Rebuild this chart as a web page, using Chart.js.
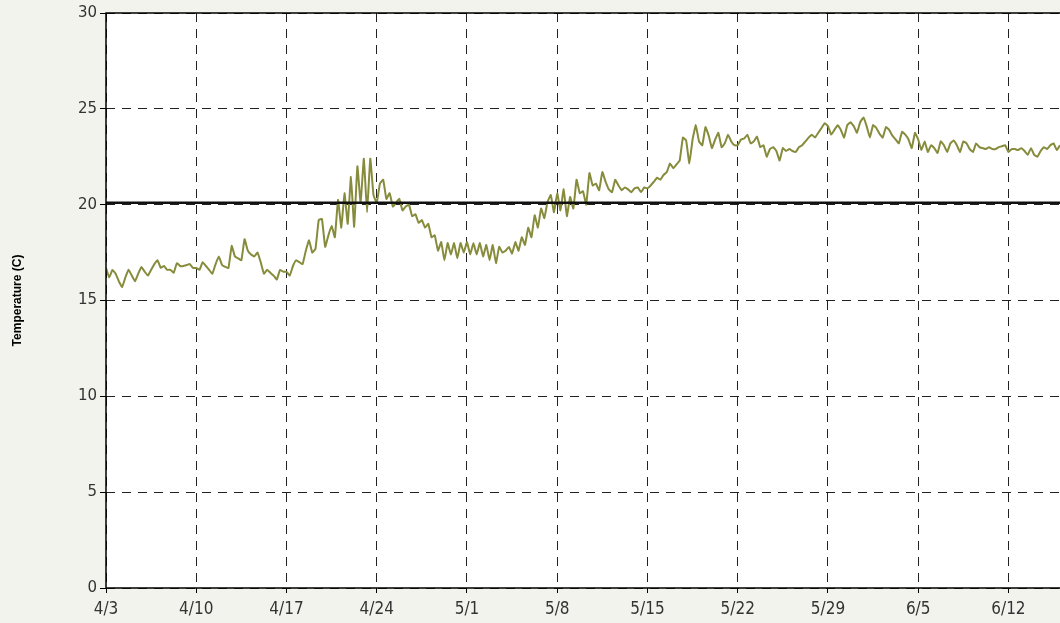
<!DOCTYPE html>
<html>
<head>
<meta charset="utf-8">
<script src="https://cdn.jsdelivr.net/npm/chart.js@4.4.1/dist/chart.umd.min.js"></script>
<style>
  html, body { margin: 0; padding: 0; background: #f3f3ee; }
  #wrap { width: 1060px; height: 623px; position: relative; }
</style>
</head>
<body>
<div id="wrap"><canvas id="c" width="1060" height="623"></canvas></div>
<script>
// Tick labels (one every 7 days, starting 4/3)
const dayLabels = ['4/3','4/10','4/17','4/24','5/1','5/8','5/15','5/22','5/29','6/5','6/12'];
const daysPerTick = 7;
const stepDays = 0.25;      // readings every 6 hours
const xMaxDays = 74;
const threshold = 20.1;     // reference line (C)
const yTicks = [0, 5, 10, 15, 20, 25, 30];

// Temperature readings (C), 4 per day from 4/3
const temps = [
  // 4/3 - 4/9
  16.7,16.2,16.6,16.4, 16.0,15.7,16.2,16.6, 16.3,16.0,16.4,16.75, 16.5,16.3,16.6,16.9, 17.1,16.7,16.8,16.6, 16.6,16.45,16.95,16.8, 16.8,16.85,16.9,16.7,
  // 4/10 - 4/16
  16.7,16.6,17.0,16.8, 16.6,16.4,16.9,17.3, 16.85,16.75,16.7,17.85, 17.3,17.2,17.1,18.2, 17.6,17.4,17.3,17.5, 17.0,16.4,16.6,16.45, 16.3,16.1,16.6,16.5,
  // 4/17 - 4/23
  16.5,16.3,16.8,17.1, 17.0,16.9,17.6,18.15, 17.5,17.7,19.2,19.25, 17.8,18.4,18.9,18.3, 20.25,18.8,20.6,19.0, 21.45,18.85,22.0,20.1, 22.4,19.6,22.4,20.5,
  // 4/24 - 4/30
  20.1,21.1,21.3,20.3, 20.6,19.9,20.1,20.3, 19.7,19.9,20.0,19.4, 19.5,19.05,19.2,18.8, 19.0,18.3,18.4,17.6, 18.05,17.1,18.0,17.4, 18.0,17.2,18.0,17.5,
  // 5/1 - 5/7
  18.05,17.4,18.0,17.4, 18.0,17.3,17.9,17.1, 17.9,16.95,17.8,17.5, 17.6,17.8,17.45,18.05, 17.6,18.3,17.9,18.8, 18.3,19.45,18.8,19.8, 19.3,20.15,20.5,19.6,
  // 5/8 - 5/14
  20.6,19.7,20.8,19.4, 20.4,19.8,21.3,20.6, 20.7,20.0,21.65,21.0, 21.1,20.75,21.7,21.2, 20.8,20.65,21.3,21.0, 20.75,20.9,20.8,20.65, 20.85,20.9,20.65,20.9,
  // 5/15 - 5/21
  20.85,21.0,21.2,21.4, 21.3,21.55,21.7,22.15, 21.9,22.1,22.3,23.5, 23.35,22.15,23.4,24.15, 23.3,23.1,24.05,23.6, 22.95,23.4,23.75,23.0, 23.2,23.65,23.3,23.1,
  // 5/22 - 5/28
  23.1,23.4,23.45,23.65, 23.2,23.3,23.55,23.0, 23.1,22.5,22.9,23.0, 22.8,22.3,22.95,22.8, 22.9,22.8,22.75,23.0, 23.1,23.3,23.5,23.65, 23.5,23.75,24.0,24.25,
  // 5/29 - 6/4
  24.1,23.65,23.9,24.15, 23.9,23.5,24.15,24.3, 24.1,23.75,24.3,24.55, 24.1,23.5,24.15,24.0, 23.7,23.5,24.05,23.9, 23.6,23.4,23.2,23.8, 23.65,23.4,22.95,23.75,
  // 6/5 - 6/11
  23.4,22.85,23.3,22.75, 23.1,22.95,22.7,23.3, 23.1,22.75,23.2,23.35, 23.1,22.75,23.3,23.2, 22.9,22.75,23.2,23.0, 22.95,22.9,23.0,22.9, 22.9,23.0,23.05,23.1,
  // 6/12 - 6/16
  22.75,22.9,22.9,22.85, 22.95,22.8,22.6,22.95, 22.6,22.5,22.8,23.0, 22.9,23.1,23.2,22.85, 23.1
];

const tempPoints = temps.map((v, i) => ({ x: i * stepDays, y: v }));
const thresholdPoints = [{ x: 0, y: threshold }, { x: xMaxDays, y: threshold }];

// solid plot frame (top, left, bottom) drawn over the dashed grid
const frame = {
  id: 'frame',
  afterDatasetsDraw(chart) {
    const { ctx, chartArea: a } = chart;
    ctx.save();
    ctx.strokeStyle = '#000';
    ctx.lineWidth = 1.5;
    ctx.setLineDash([]);
    ctx.beginPath();
    ctx.moveTo(a.right, a.top);
    ctx.lineTo(a.left, a.top);
    ctx.lineTo(a.left, a.bottom);
    ctx.lineTo(a.right, a.bottom);
    ctx.stroke();
    ctx.restore();
  }
};
const plotBg = {
  id: 'plotBg',
  beforeDraw(chart) {
    const { ctx, chartArea } = chart;
    ctx.save();
    ctx.fillStyle = '#ffffff';
    ctx.fillRect(chartArea.left, chartArea.top, chartArea.right - chartArea.left, chartArea.bottom - chartArea.top);
    ctx.restore();
  }
};

new Chart(document.getElementById('c'), {
  type: 'line',
  data: {
    datasets: [
      {
        data: tempPoints,
        borderColor: '#878c3c',
        borderWidth: 2,
        pointRadius: 0,
        tension: 0.1,
        order: 2
      },
      {
        data: thresholdPoints,
        borderColor: '#111',
        borderWidth: 2.5,
        pointRadius: 0,
        order: 1
      }
    ]
  },
  options: {
    responsive: false,
    animation: false,
    layout: { padding: { top: 13, right: 0, left: 0, bottom: 0 } },
    plugins: { legend: { display: false }, tooltip: { enabled: false } },
    scales: {
      x: {
        type: 'linear',
        min: 0,
        max: xMaxDays,
        afterBuildTicks: s => { s.ticks = s.ticks.filter(t => t.value % daysPerTick === 0); },
        afterFit: s => { s.height = 35; },
        ticks: {
          stepSize: daysPerTick,
          autoSkip: false,
          maxRotation: 0,
          padding: 6,
          color: '#333',
          font: { family: '"Liberation Sans Narrow", "DejaVu Sans Condensed", "Liberation Sans"', size: 17 },
          callback: v => dayLabels[v / daysPerTick] ?? ''
        },
        grid: {
          color: '#222',
          lineWidth: 1,
          tickBorderDash: [],
          tickColor: '#000',
          tickLength: 5
        },
        border: { display: false, dash: [9, 7] }
      },
      y: {
        min: 0,
        max: 30,
        afterBuildTicks: s => { s.ticks = yTicks.map(v => ({ value: v })); },
        afterFit: s => { s.width = 106; },
        ticks: {
          stepSize: 5,
          padding: 3,
          color: '#333',
          font: { family: '"DejaVu Sans"', size: 15 }
        },
        grid: {
          color: '#222',
          lineWidth: 1,
          tickBorderDash: [],
          tickColor: '#000',
          tickLength: 6
        },
        border: { display: false, dash: [9, 7] },
        title: {
          display: true,
          text: 'Temperature (C)',
          color: '#000',
          font: { family: '"Liberation Sans", Arial', size: 12, weight: 'bold' },
          padding: { top: 10, bottom: 0 }
        }
      }
    }
  },
  plugins: [plotBg, frame]
});
</script>
</body>
</html>
